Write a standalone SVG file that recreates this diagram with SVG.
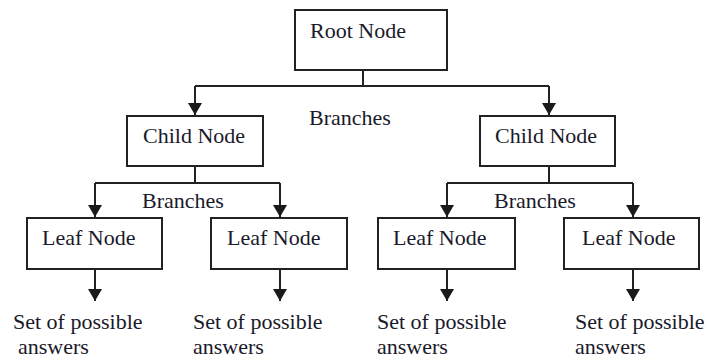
<svg xmlns="http://www.w3.org/2000/svg" width="708" height="358" viewBox="0 0 708 358">
  <defs>
    <marker id="arrow" markerUnits="userSpaceOnUse" markerWidth="13" markerHeight="14" refX="12" refY="7" orient="auto">
      <path d="M0,0 L12,7 L0,14 Z" fill="#1a1a1a"/>
    </marker>
    <style>
      .box { fill: #ffffff; stroke: #222222; stroke-width: 2; }
      .wire { fill: none; stroke: #222222; stroke-width: 2; }
      .arrow { marker-end: url(#arrow); }
      text { font-family: "Liberation Serif", "Times New Roman", serif; font-size: 22px; fill: #1a1a2a; }
    </style>
  </defs>
  <rect width="708" height="358" fill="#ffffff"/>

  <!-- connectors -->
  <g id="connectors">
    <!-- root to children -->
    <path class="wire" d="M363,70 V86"/>
    <path class="wire" d="M195,86 H549"/>
    <path class="wire arrow" d="M195,86 V115"/>
    <path class="wire arrow" d="M549,86 V115"/>
    <!-- left child to leaves -->
    <path class="wire" d="M195,166 V183"/>
    <path class="wire" d="M95,183 H280"/>
    <path class="wire arrow" d="M95,183 V217"/>
    <path class="wire arrow" d="M280,183 V217"/>
    <!-- right child to leaves -->
    <path class="wire" d="M549,166 V183"/>
    <path class="wire" d="M447,183 H633"/>
    <path class="wire arrow" d="M447,183 V217"/>
    <path class="wire arrow" d="M633,183 V217"/>
    <!-- leaves to answers -->
    <path class="wire arrow" d="M95,269 V301"/>
    <path class="wire arrow" d="M280,269 V301"/>
    <path class="wire arrow" d="M447,269 V301"/>
    <path class="wire arrow" d="M633,269 V301"/>
    <text x="309" y="125">Branches</text>
    <text x="142" y="208">Branches</text>
    <text x="494" y="208">Branches</text>
  </g>

  <g id="root">
    <rect class="box" x="295" y="10" width="152" height="60"/>
    <text x="310" y="38">Root Node</text>
  </g>

  <g id="child-left">
    <rect class="box" x="127" y="116" width="136" height="50"/>
    <text x="143" y="143">Child Node</text>
  </g>
  <g id="child-right">
    <rect class="box" x="480" y="116" width="135" height="50"/>
    <text x="495" y="143">Child Node</text>
  </g>

  <g id="leaf-1">
    <rect class="box" x="27" y="218" width="135" height="51"/>
    <text x="42" y="245">Leaf Node</text>
  </g>
  <g id="leaf-2">
    <rect class="box" x="211" y="218" width="136" height="51"/>
    <text x="227" y="245">Leaf Node</text>
  </g>
  <g id="leaf-3">
    <rect class="box" x="378" y="218" width="137" height="51"/>
    <text x="393" y="245">Leaf Node</text>
  </g>
  <g id="leaf-4">
    <rect class="box" x="564" y="218" width="135" height="51"/>
    <text x="582" y="245">Leaf Node</text>
  </g>

  <g id="answers-1">
    <text x="13" y="329">Set of possible</text>
    <text x="18" y="354">answers</text>
  </g>
  <g id="answers-2">
    <text x="193" y="329">Set of possible</text>
    <text x="193" y="354">answers</text>
  </g>
  <g id="answers-3">
    <text x="377" y="329">Set of possible</text>
    <text x="377" y="354">answers</text>
  </g>
  <g id="answers-4">
    <text x="575" y="329">Set of possible</text>
    <text x="575" y="354">answers</text>
  </g>
</svg>
